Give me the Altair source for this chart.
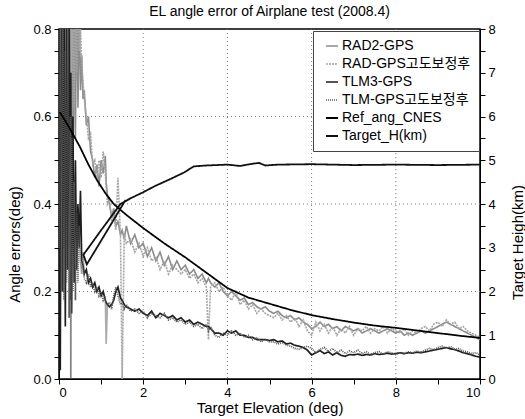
import altair as alt
import pandas as pd

# ---------------- data ----------------
x_grid = [0.00, 0.03, 0.06, 0.09, 0.12, 0.15, 0.18, 0.21, 0.24, 0.27, 0.28, 0.30, 0.33, 0.36, 0.39, 0.42, 0.45, 0.48, 0.51, 0.54, 0.57, 0.60,
          0.65, 0.70, 0.75, 0.80, 0.85, 0.90, 0.95, 1.00, 1.05, 1.10, 1.12, 1.15, 1.20, 1.25, 1.30, 1.35, 1.40, 1.46, 1.50, 1.55, 1.60,
          1.7, 1.8, 1.9, 2.0, 2.1, 2.2, 2.3, 2.4, 2.5, 2.6, 2.7, 2.8, 2.9, 3.0, 3.1, 3.2, 3.3, 3.4, 3.5,
          3.55,
          3.6, 3.7, 3.8, 3.9, 4.0, 4.1, 4.2, 4.3, 4.4, 4.5, 4.6, 4.7, 4.8, 4.9, 5.0,
          5.1, 5.2, 5.3, 5.4, 5.5, 5.6, 5.7, 5.8, 5.9, 6.0, 6.1, 6.2, 6.3, 6.4, 6.5, 6.6, 6.7, 6.8, 6.9, 7.0,
          7.1, 7.2, 7.3, 7.4, 7.5, 7.6, 7.7, 7.8, 7.9, 8.0, 8.1, 8.2, 8.3, 8.4, 8.5, 8.6, 8.7, 8.8, 8.9, 9.0,
          9.1, 9.2, 9.3, 9.4, 9.5, 9.6, 9.7, 9.8, 9.9, 10.0]

rad2_y = [0.62, 0.90, 0.35, 0.95, 0.30, 0.88, 0.25, 0.92, 0.30, 0.90, 0.45, 0.95, 0.40, 0.90, 0.55, 0.92, 0.62, 0.85, 0.66, 0.74, 0.64, 0.66,
          0.58, 0.60, 0.52, 0.50, 0.46, 0.49, 0.44, 0.50, 0.47, 0.51, 0.45, 0.42, 0.40, 0.37, 0.39, 0.35, 0.36, 0.33, 0.34, 0.32, 0.35,
          0.31, 0.33, 0.30, 0.31, 0.28, 0.30, 0.27, 0.29, 0.26, 0.28, 0.25, 0.27, 0.25, 0.26, 0.24, 0.25, 0.23, 0.24, 0.22,
          0.23,
          0.22, 0.21, 0.22, 0.20, 0.19, 0.20, 0.19, 0.18, 0.185, 0.17, 0.175, 0.165, 0.16, 0.165, 0.155,
          0.15, 0.155, 0.145, 0.14, 0.145, 0.135, 0.14, 0.13, 0.125, 0.115, 0.12, 0.13, 0.12, 0.125, 0.115, 0.12, 0.11, 0.12, 0.115, 0.11,
          0.115, 0.105, 0.11, 0.115, 0.11, 0.105, 0.11, 0.115, 0.11, 0.105, 0.11, 0.10, 0.105, 0.10, 0.105, 0.11, 0.105, 0.11, 0.115, 0.12,
          0.125, 0.13, 0.125, 0.12, 0.115, 0.11, 0.105, 0.10, 0.095, 0.09]

radc_y = [0.80, 0.45, 0.92, 0.40, 0.88, 0.50, 0.95, 0.45, 0.90, 0.55, 0.92, 0.60, 0.95, 0.62, 0.90, 0.70, 0.92, 0.75, 0.80, 0.72, 0.68, 0.64,
          0.60, 0.55, 0.56, 0.49, 0.50, 0.46, 0.50, 0.46, 0.52, 0.47, 0.44, 0.40, 0.41, 0.36, 0.38, 0.34, 0.46, 0.33, 0.0, 0.33, 0.31,
          0.32, 0.29, 0.31, 0.28, 0.30, 0.27, 0.28, 0.25, 0.27, 0.24, 0.26, 0.25, 0.24, 0.25, 0.23, 0.24, 0.22, 0.23, 0.21,
          0.09,
          0.21, 0.22, 0.20, 0.21, 0.19, 0.18, 0.20, 0.17, 0.18, 0.16, 0.17, 0.15, 0.16, 0.15, 0.145,
          0.14, 0.15, 0.135, 0.145, 0.13, 0.14, 0.12, 0.135, 0.11, 0.10, 0.13, 0.11, 0.125, 0.105, 0.12, 0.10, 0.115, 0.105, 0.12, 0.10,
          0.115, 0.11, 0.12, 0.105, 0.115, 0.11, 0.12, 0.105, 0.115, 0.11, 0.105, 0.115, 0.10, 0.11, 0.105, 0.115, 0.12, 0.11, 0.125, 0.13,
          0.12, 0.135, 0.125, 0.13, 0.115, 0.12, 0.11, 0.105, 0.10, 0.095]

tlm3_y = [0.90, 0.02, 0.85, 0.20, 0.95, 0.12, 0.80, 0.25, 0.90, 0.18, 0.70, 0.15, 0.60, 0.22, 0.50, 0.25, 0.40, 0.30, 0.43, 0.27, 0.26, 0.24,
          0.25, 0.22, 0.23, 0.21, 0.22, 0.20, 0.21, 0.19, 0.20, 0.18, 0.175, 0.17, 0.165, 0.17, 0.18, 0.20, 0.21, 0.185, 0.18, 0.17, 0.165,
          0.16, 0.155, 0.16, 0.15, 0.145, 0.155, 0.14, 0.15, 0.145, 0.14, 0.145, 0.135, 0.14, 0.13, 0.135, 0.125, 0.13, 0.125, 0.12,
          0.12,
          0.115, 0.105, 0.105, 0.10, 0.11, 0.105, 0.11, 0.10, 0.10, 0.095, 0.095, 0.09, 0.09, 0.09, 0.088,
          0.09, 0.085, 0.087, 0.08, 0.082, 0.077, 0.075, 0.072, 0.066, 0.055, 0.06, 0.065, 0.058, 0.062, 0.055, 0.06, 0.054, 0.052, 0.056, 0.055,
          0.057, 0.054, 0.056, 0.055, 0.058, 0.056, 0.057, 0.059, 0.057, 0.058, 0.06, 0.058, 0.06, 0.059, 0.061, 0.06, 0.062, 0.064, 0.066, 0.068,
          0.07, 0.072, 0.069, 0.067, 0.064, 0.06, 0.058, 0.055, 0.052, 0.05]

tlmc_y = [0.30, 0.85, 0.20, 0.90, 0.18, 0.75, 0.22, 0.88, 0.14, 0.60, 0.0, 0.55, 0.20, 0.45, 0.18, 0.38, 0.22, 0.35, 0.27, 0.24, 0.29, 0.23,
          0.22, 0.24, 0.21, 0.22, 0.20, 0.21, 0.19, 0.20, 0.18, 0.19, 0.08, 0.17, 0.175, 0.16, 0.19, 0.21, 0.19, 0.17, 0.175, 0.16, 0.17,
          0.155, 0.16, 0.15, 0.155, 0.14, 0.15, 0.145, 0.14, 0.15, 0.135, 0.14, 0.13, 0.135, 0.125, 0.13, 0.12, 0.125, 0.115, 0.125,
          0.11,
          0.12, 0.10, 0.095, 0.105, 0.10, 0.11, 0.10, 0.105, 0.095, 0.10, 0.09, 0.095, 0.085, 0.09, 0.085,
          0.085, 0.08, 0.083, 0.078, 0.075, 0.07, 0.068, 0.072, 0.075, 0.07, 0.06, 0.068, 0.072, 0.063, 0.07, 0.06, 0.066, 0.058, 0.064, 0.06,
          0.066, 0.058, 0.062, 0.056, 0.06, 0.063, 0.057, 0.062, 0.06, 0.056, 0.061, 0.058, 0.062, 0.06, 0.064, 0.061, 0.066, 0.07, 0.067, 0.072,
          0.075, 0.07, 0.074, 0.068, 0.07, 0.064, 0.062, 0.058, 0.06, 0.055]

ref_x = [0.02, 0.15, 0.3, 0.5, 0.7, 0.9, 1.1, 1.3, 1.6, 2.0, 2.5, 3.0, 3.5, 4.0, 4.5, 5.0, 5.5, 6.0, 6.5, 7.0, 7.5, 8.0, 8.5, 9.0, 9.5, 10.0]
ref_y = [0.61, 0.59, 0.565, 0.53, 0.49, 0.455, 0.425, 0.40, 0.375, 0.345, 0.31, 0.278, 0.243, 0.208, 0.186, 0.172, 0.158, 0.146, 0.137, 0.129,
         0.122, 0.117, 0.111, 0.105, 0.099, 0.094]

th_x = [1.58, 1.10, 0.66, 0.58, 1.00, 1.46, 1.70, 2.00, 2.30, 2.60, 2.97, 3.20, 3.50, 4.00, 4.30, 4.60, 4.75, 4.90, 5.20, 6.00, 7.00, 8.00, 9.00, 10.00]
th_km = [4.09, 3.32, 2.62, 2.84, 3.40, 4.00, 4.13, 4.27, 4.42, 4.55, 4.72, 4.86, 4.88, 4.90, 4.87, 4.92, 4.94, 4.88, 4.90, 4.91, 4.89, 4.90, 4.89, 4.90]

series_names = ["RAD2-GPS", "RAD-GPS고도보정후", "TLM3-GPS", "TLM-GPS고도보정후", "Ref_ang_CNES", "Target_H(km)"]
series_colors = ["#8c8c8c", "#a6a6a6", "#1e1e1e", "#5a5a5a", "#000000", "#111111"]
series_dash = [[1, 0], [2, 1], [1, 0], [1, 1], [1, 0], [1, 0]]
series_width = [1.6, 1.8, 2.6, 1.8, 2.6, 1.2]

grid_x = [2, 4, 6, 8]
grid_y = [0.2, 0.4, 0.6]
x_ticks = [0, 1, 2, 3, 4, 5, 6, 7, 8, 9, 10]
y_ticks = [0, 0.05, 0.1, 0.15, 0.2, 0.25, 0.3, 0.35, 0.4, 0.45, 0.5, 0.55, 0.6, 0.65, 0.7, 0.75, 0.8]
h_ticks = [0, 0.5, 1, 1.5, 2, 2.5, 3, 3.5, 4, 4.5, 5, 5.5, 6, 6.5, 7, 7.5, 8]

# ---------------- tables ----------------
for ys in (rad2_y, radc_y, tlm3_y, tlmc_y):
    assert len(ys) == len(x_grid)
assert len(ref_x) == len(ref_y) and len(th_x) == len(th_km)

rows = []
for name, ys in zip(series_names[:4], [rad2_y, radc_y, tlm3_y, tlmc_y]):
    for xv, yv in zip(x_grid, ys):
        rows.append({"x": xv, "y": yv, "series": name})
df_noise = pd.DataFrame(rows)
df_ref = pd.DataFrame({"x": ref_x, "y": ref_y, "series": series_names[4]})
df_h = pd.DataFrame({"x": th_x, "h": th_km, "series": series_names[5], "i": list(range(len(th_x)))})
df_gx = pd.DataFrame({"x": grid_x})
df_gy = pd.DataFrame({"y": grid_y})

FONT = "Liberation Sans, Arial, Noto Sans CJK KR"

x_scale = alt.Scale(domain=[0, 10], nice=False)
y_scale = alt.Scale(domain=[0, 0.8], nice=False)
h_scale = alt.Scale(domain=[0, 8], nice=False)

x_axis = alt.Axis(values=x_ticks, title="Target Elevation (deg)",
                  labelExpr="datum.value % 2 == 0 ? format(datum.value, 'd') : ''",
                  titleY=21, titleBaseline="top", tickSize=5, labelPadding=2)
y_axis = alt.Axis(values=y_ticks, title="Angle errors(deg)",
                  labelExpr="round(datum.value * 100) % 20 == 0 ? format(datum.value, '.1f') : ''",
                  titleX=-45, titleY=215, titleAngle=270, titleAlign="center", titleBaseline="middle",
                  tickSize=5, labelPadding=3)
h_axis = alt.Axis(values=h_ticks, title="Target Heigh(km)", orient="right",
                  labelExpr="datum.value % 1 == 0 ? format(datum.value, 'd') : ''",
                  titleX=37, titleY=213, titleAngle=270, titleAlign="center", titleBaseline="middle",
                  tickSize=5, labelPadding=3)

X = alt.X("x:Q", scale=x_scale, axis=x_axis)
Y = alt.Y("y:Q", scale=y_scale, axis=y_axis)

col = alt.Color("series:N", title=None, scale=alt.Scale(domain=series_names, range=series_colors))
dash = alt.StrokeDash("series:N", title=None, scale=alt.Scale(domain=series_names, range=series_dash))
wid = alt.StrokeWidth("series:N", title=None, scale=alt.Scale(domain=series_names, range=series_width))

grid_v = alt.Chart(df_gx).mark_rule(color="#777777", strokeDash=[1, 3], strokeWidth=1).encode(x=X)
grid_h = alt.Chart(df_gy).mark_rule(color="#777777", strokeDash=[1, 3], strokeWidth=1).encode(y=Y)

noise = alt.Chart(df_noise).mark_line(clip=True).encode(x=X, y=Y, color=col, strokeDash=dash, strokeWidth=wid)
ref = alt.Chart(df_ref).mark_line(clip=True).encode(x=X, y=Y, color=col, strokeDash=dash, strokeWidth=wid)

target = alt.Chart(df_h).mark_line(clip=True).encode(
    x=X, y=alt.Y("h:Q", scale=h_scale, axis=h_axis), order=alt.Order("i:Q"),
    color=col, strokeDash=dash, strokeWidth=wid)

left = alt.layer(grid_v, grid_h, noise, ref)
chart = alt.layer(left, target).resolve_scale(y="independent").properties(
    width=421, height=350,
    title="EL angle error of Airplane test (2008.4)",
    autosize=alt.AutoSizeParams(type="none"),
    padding={"left": 59, "top": 29, "right": 45, "bottom": 40},
    background="white",
).configure_view(stroke="black", strokeWidth=1.5).configure_axis(
    labelFont=FONT, titleFont=FONT, labelFontSize=13, titleFontSize=15,
    labelColor="black", titleColor="black", tickColor="black", domainColor="black",
    titleFontWeight="normal", grid=False,
).configure_title(
    font=FONT, fontSize=14, fontWeight="normal", color="black", offset=0, anchor="middle",
).configure_legend(
    orient="none", legendX=254, legendY=2, strokeColor="#444444", fillColor="white",
    padding=8, labelFont=FONT, labelFontSize=14, labelColor="black", symbolType="stroke",
    symbolSize=144, rowPadding=4, labelOffset=3, symbolOffset=4, labelLimit=300,
)

chart.save("out.html", embed_options={"renderer": "svg", "actions": False})
